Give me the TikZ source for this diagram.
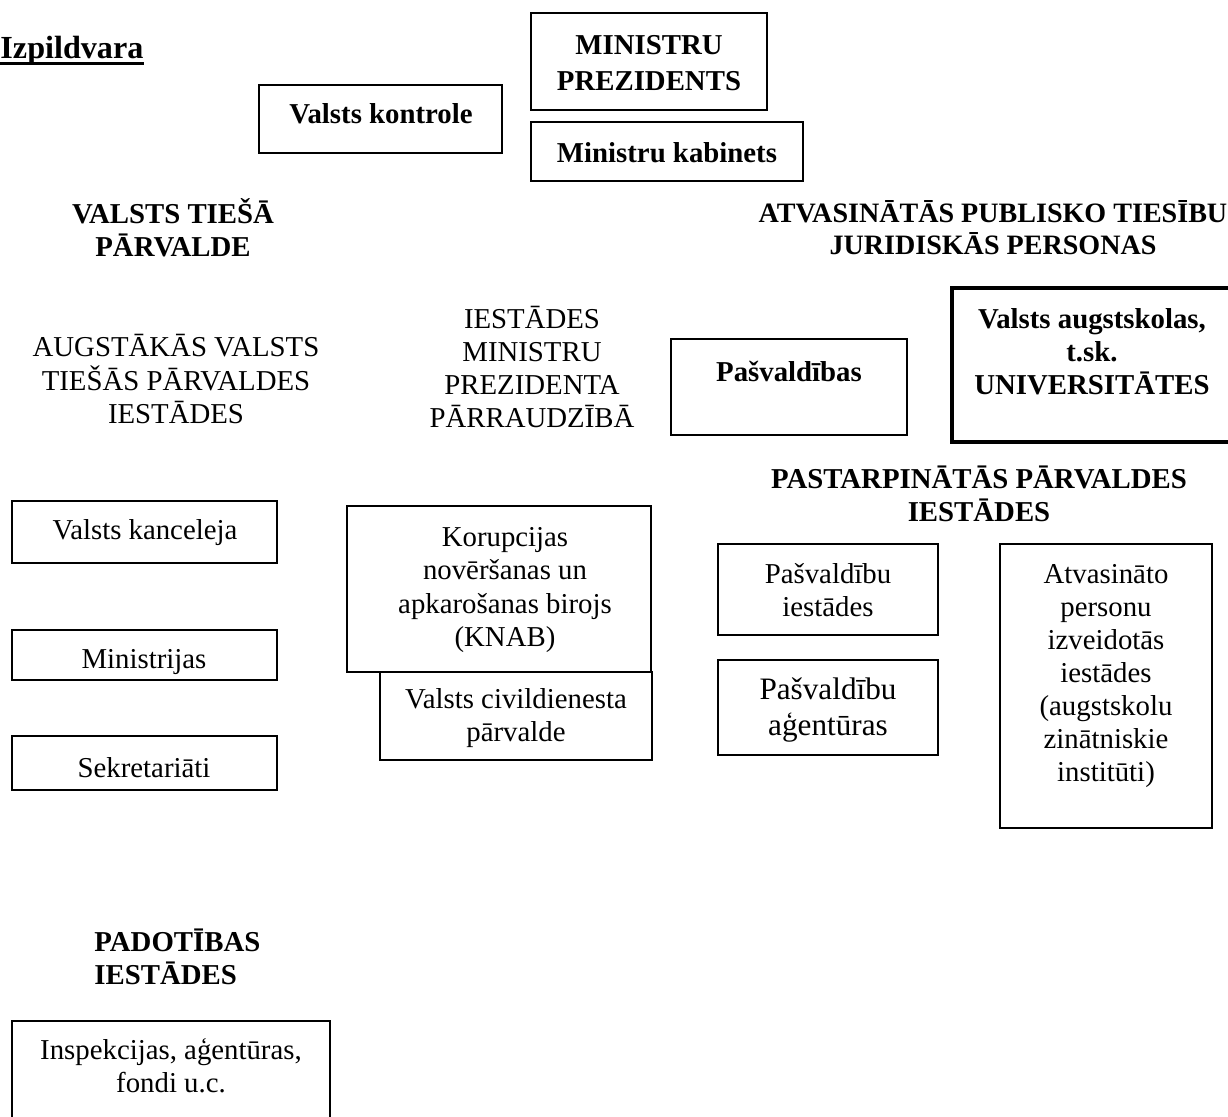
\documentclass[tikz,border=0pt]{standalone}
\usepackage{fontspec}
\setmainfont{Liberation Serif}
\usetikzlibrary{positioning}

\tikzset{
  box/.style={line width=0.8pt},
  thickbox/.style={line width=1.7pt},
  txt/.style={align=center, inner sep=0pt, font=\fontsize{12}{13.8}\selectfont},
  head/.style={txt, font=\fontsize{12}{13.8}\selectfont\bfseries},
}

\begin{document}
\begin{tikzpicture}[x=0.41667pt, y=-0.41667pt]
\useasboundingbox (0,0) rectangle (1228,1116);

% Title
\node[head, anchor=west, font=\fontsize{13.4}{15}\selectfont\bfseries] (title) at (0,51) {Izpildvara};
\draw[line width=1.2pt] (title.south west) ++(0,-3) coordinate (ul) -- (ul -| title.south east);

% Top boxes
\draw[box] (531,13) rectangle (767,110);
\node[head, font=\fontsize{12}{15}\selectfont\bfseries] (mp) at (649,63) {MINISTRU\\PREZIDENTS};
\draw[box] (531,122) rectangle (803,181);
\node[head] (mk) at (667,153) {Ministru kabinets};
\draw[box] (259,85) rectangle (502,153);
\node[head] (vk) at (381,114) {Valsts kontrole};

% Section headings
\node[head] (vtp) at (173,228) {VALSTS TIEŠĀ\\PĀRVALDE};
\node[head, font=\fontsize{11.7}{13.4}\selectfont\bfseries] (aptjp) at (993,228) {ATVASINĀTĀS PUBLISKO TIESĪBU\\JURIDISKĀS PERSONAS};
\node[txt] (avtpi) at (176,379) {AUGSTĀKĀS VALSTS\\TIEŠĀS PĀRVALDES\\IESTĀDES};
\node[txt] (impp) at (532,367) {IESTĀDES\\MINISTRU\\PREZIDENTA\\PĀRRAUDZĪBĀ};

% Derived public persons
\draw[box] (671,339) rectangle (907,435);
\node[head] (pasv) at (789,371) {Pašvaldības};
\draw[thickbox] (952,288) rectangle (1240,442);
\node[head] (univ) at (1092,352) {Valsts augstskolas,\\t.sk.\\UNIVERSITĀTES};
\node[head] (ppi) at (979,494) {PASTARPINĀTĀS PĀRVALDES\\IESTĀDES};

% Left column
\draw[box] (12,501) rectangle (277,563);
\node[txt] (kanc) at (145,533) {Valsts kanceleja};
\draw[box] (12,630) rectangle (277,680);
\node[txt] (min) at (144,662) {Ministrijas};
\draw[box] (12,736) rectangle (277,790);
\node[txt] (sekr) at (144,768) {Sekretariāti};

% Middle column
\draw[box] (347,506) rectangle (651,672);
\node[txt] (knab) at (505,590) {Korupcijas\\novēršanas un\\apkarošanas birojs\\(KNAB)};
\draw[box] (380,672) rectangle (652,760);
\node[txt] (vcp) at (516,718) {Valsts civildienesta\\pārvalde};

% Right columns
\draw[box] (718,544) rectangle (938,635);
\node[txt] (pi) at (828,590) {Pašvaldību\\iestādes};
\draw[box] (718,660) rectangle (938,755);
\node[txt, font=\fontsize{13}{15}\selectfont] (pa) at (828,710) {Pašvaldību\\aģentūras};
\draw[box] (1000,544) rectangle (1212,828);
\node[txt] (api) at (1106,676) {Atvasināto\\personu\\izveidotās\\iestādes\\(augstskolu\\zinātniskie\\institūti)};

% Subordinate institutions
\node[head, align=left, anchor=west] (padi) at (94,957) {PADOTĪBAS\\IESTĀDES};
\draw[box] (12,1021) rectangle (330,1130);
\node[txt] (insp) at (171,1066) {Inspekcijas, aģentūras,\\fondi u.c.};
\end{tikzpicture}
\end{document}
